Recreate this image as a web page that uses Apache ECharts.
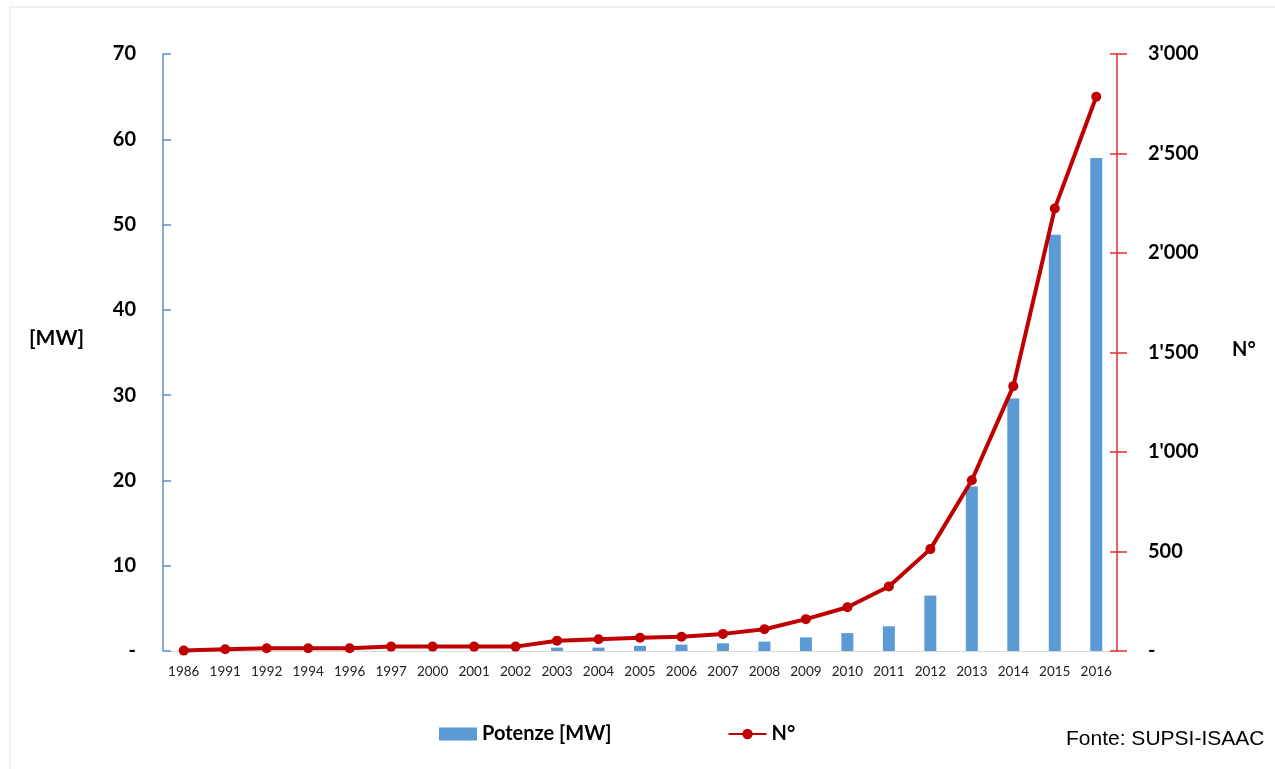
<!DOCTYPE html>
<html><head><meta charset="utf-8">
<script src="https://cdn.jsdelivr.net/npm/echarts@6/dist/echarts.min.js"></script>
<style>html,body{margin:0;padding:0;background:#fff}#c{width:1275px;height:769px}</style>
</head><body><div id="c"></div>
<script>
const years = ['1986','1991','1992','1994','1996','1997','2000','2001','2002','2003','2004','2005','2006','2007','2008','2009','2010','2011','2012','2013','2014','2015','2016'];
const potenzeMW = [0,0,0,0,0,0,0,0,0,0.4,0.4,0.6,0.75,0.9,1.1,1.6,2.1,2.9,6.5,19.3,29.6,48.8,57.8];
const numero = [2,9,14,14,14,22,22,22,22,52,59,67,72,86,109,160,220,324,512,858,1331,2224,2785];
const leftTicks = {min:0, max:70, interval:10};
const rightTicks = {min:0, max:3000, interval:500};

const chart = echarts.init(document.getElementById('c'));
const bold = 'Lato';
const fmtRight = v => v === 0 ? '-' : String(v).replace(/\B(?=(\d{3})+(?!\d))/g, "'");
chart.setOption({
  animation:false,
  grid:{left:163, right:158, top:54, bottom:118},
  legend:{
    left:434, top:719, itemGap:116, itemWidth:38, itemHeight:13, itemTextGap:3,
    textStyle:{fontFamily:bold, fontWeight:'bold', fontSize:20, color:'#000'},
    data:[{name:'Potenze [MW]', icon:'rect'},{name:'N°'}]
  },
  xAxis:{
    type:'category', data:years, boundaryGap:true,
    axisLine:{lineStyle:{color:'#d9d9d9', width:1}},
    axisTick:{show:false},
    axisLabel:{fontFamily:'Lato', fontSize:13.5, color:'#222', margin:14, interval:0}
  },
  yAxis:[
    {type:'value', position:'left', min:leftTicks.min, max:leftTicks.max, interval:leftTicks.interval,
     splitLine:{show:false},
     axisLine:{show:true, lineStyle:{color:'#5b8fcb', width:1.5}},
     axisTick:{show:true, inside:true, length:8, lineStyle:{color:'#5b8fcb', width:1.5}},
     axisLabel:{fontFamily:bold, fontWeight:'bold', fontSize:20, color:'#000', margin:27,
       formatter: v => v === 0 ? '-' : v}},
    {type:'value', position:'right', min:rightTicks.min, max:rightTicks.max, interval:rightTicks.interval,
     splitLine:{show:false},
     axisLine:{show:true, lineStyle:{color:'#e03030', width:1.5}},
     axisTick:{show:true, inside:false, length:10, lineStyle:{color:'#e03030', width:1.5}},
     axisLabel:{fontFamily:bold, fontWeight:'bold', fontSize:20, color:'#000', margin:31,
       formatter: fmtRight}},
    {type:'value', position:'right', min:rightTicks.min, max:rightTicks.max, interval:rightTicks.interval,
     splitLine:{show:false},
     axisLine:{show:false},
     axisTick:{show:true, inside:true, length:7, lineStyle:{color:'#e03030', width:1.5}},
     axisLabel:{show:false}}
  ],
  series:[
    {name:'Potenze [MW]', type:'bar', data:potenzeMW, yAxisIndex:0, barWidth:12,
     itemStyle:{color:'#5b9bd5'}},
    {name:'N°', type:'line', data:numero, yAxisIndex:1, symbol:'circle', symbolSize:10,
     lineStyle:{color:'#c00000', width:4}, itemStyle:{color:'#c00000'}}
  ],
  graphic:[
    {type:'rect', shape:{x:10, y:7, width:1300, height:800}, style:{fill:'none', stroke:'#e3e3e3', lineWidth:1}, silent:true},
    {type:'text', left:29, top:328, style:{text:'[MW]', font:'bold 21px Lato', fill:'#000'}},
    {type:'text', left:1232, top:340, style:{text:'N°', font:'bold 20px Lato', fill:'#000'}},
    {type:'text', left:1066, top:729, style:{text:'Fonte: SUPSI-ISAAC', font:'21px "Liberation Sans Narrow", "Liberation Sans"', fill:'#000'}}
  ]
});
</script>
</body></html>
